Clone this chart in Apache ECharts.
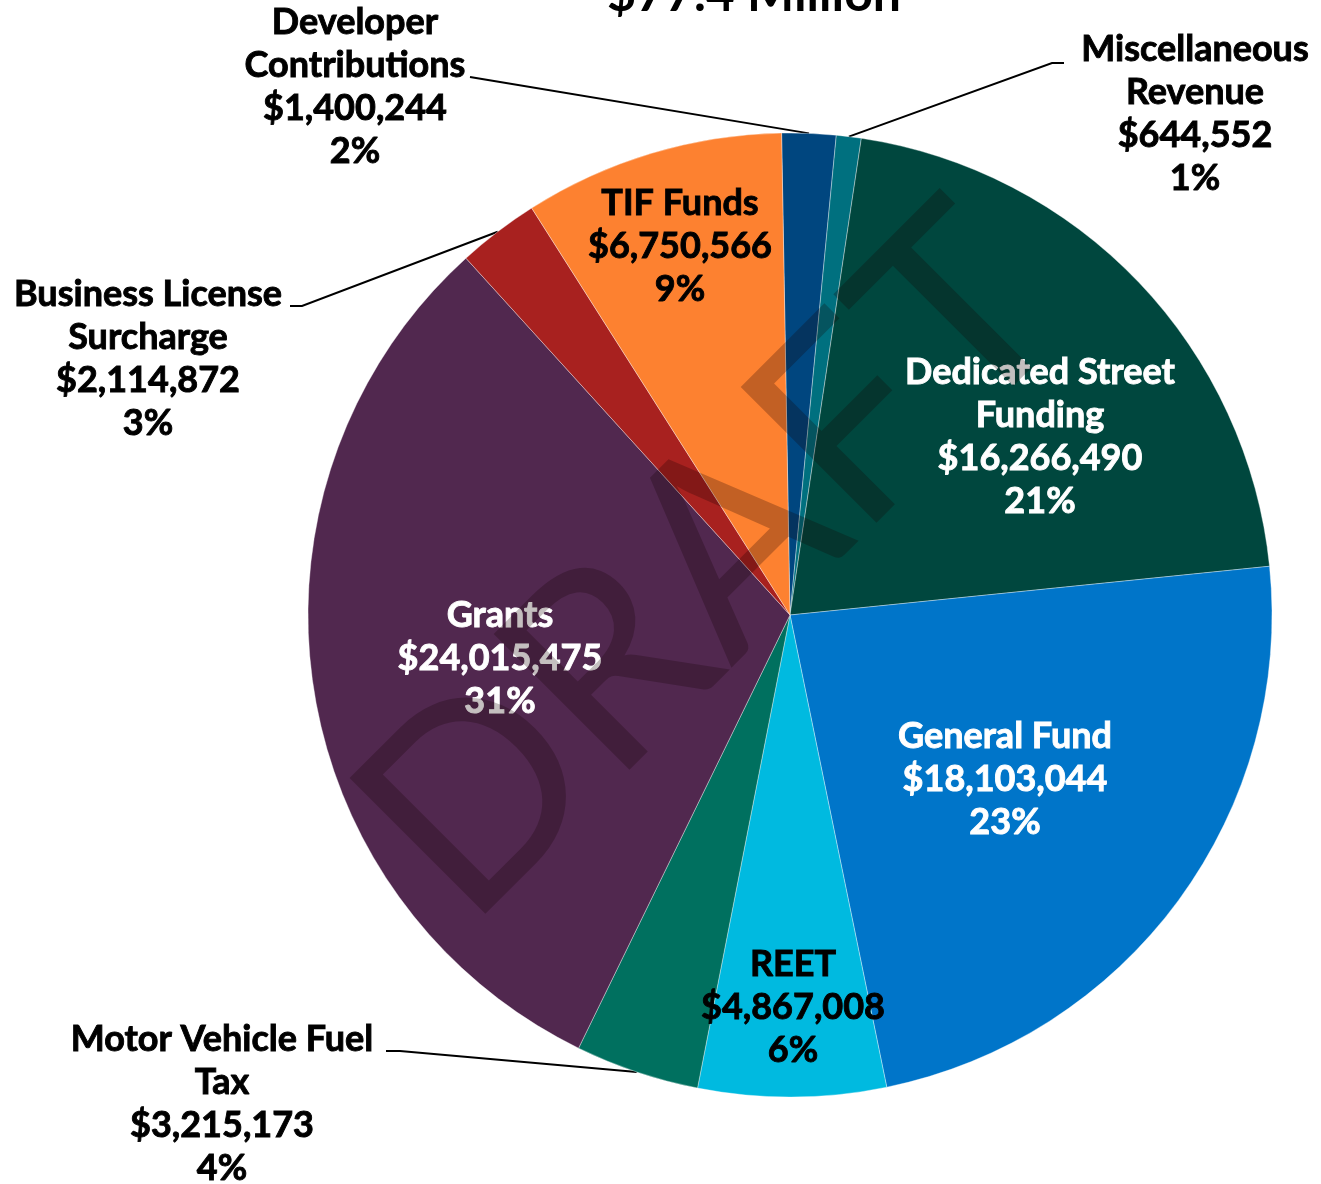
<!DOCTYPE html>
<html>
<head>
<meta charset="utf-8">
<title>Revenue sources</title>
<script src="https://cdn.jsdelivr.net/npm/echarts@6/dist/echarts.min.js"></script>
<style>
  html, body { margin: 0; padding: 0; background: #fff; }
  #chart { width: 1321px; height: 1184px; }
</style>
</head>
<body>
<div id="chart"></div>
<script>
// revenue sources, clockwise from 12 o'clock
var names = ['Developer\nContributions', 'Miscellaneous\nRevenue', 'Dedicated Street\nFunding', 'General Fund', 'REET',
             'Motor Vehicle Fuel\nTax', 'Grants', 'Business License\nSurcharge', 'TIF Funds'];
var amounts = [1400244, 644552, 16266490, 18103044, 4867008, 3215173, 24015475, 2114872, 6750566];
var title = '$77.4 Million';

var sliceColors = ['#00467f', '#00707f', '#00473e', '#0075c9', '#00bae0', '#00705f', '#51284f', '#a8211f', '#fd8130'];
var textColors = ['#000', '#000', '#fff', '#fff', '#000', '#000', '#fff', '#000', '#000'];
var outside = [true, true, false, false, false, true, false, true, false];

// where Excel put each label (centre of the text block)
var labelPos = [[355, 87], [1195, 114], [1040, 437], [1005, 779], [793, 1007], [222, 1104], [500, 658], [148, 359], [680, 246]];
// leader line: bend point, then end at the label
var leader = {
    0: [[482, 79], [470, 77]],
    1: [[1052, 63], [1064, 63]],
    5: [[400, 1051], [386, 1051]],
    7: [[302, 306], [290, 306]]
};

var data = names.map(function (n, i) {
    return {
        name: n,
        value: amounts[i],
        itemStyle: { color: sliceColors[i] },
        label: {
            color: textColors[i],
            textBorderColor: textColors[i],
            position: outside[i] ? 'outside' : 'inside'
        },
        labelLine: { show: outside[i] }
    };
});

var chart = echarts.init(document.getElementById('chart'));
chart.setOption({
    backgroundColor: '#fff',
    animation: false,
    graphic: [
        {
            type: 'text', x: 754, y: 20, z: 50,
            style: {
                text: title, fontSize: 50, fontWeight: 'bold', fontFamily: 'Lato', fill: '#000',
                align: 'center', verticalAlign: 'bottom', textAlign: 'center', textVerticalAlign: 'bottom'
            }
        },
        {
            // watermark sits on top of everything
            type: 'text', x: 712, y: 565, rotation: Math.PI / 4, z: 100,
            style: {
                text: 'DRAFT', fontSize: 268, fontFamily: 'Lato', fill: 'rgba(20,0,0,0.25)',
                align: 'center', verticalAlign: 'middle', textAlign: 'center', textVerticalAlign: 'middle'
            }
        }
    ],
    series: [{
        type: 'pie',
        center: [790, 615],
        radius: 482,
        startAngle: 91,
        clockwise: true,
        percentPrecision: 0,
        itemStyle: { borderColor: 'rgba(255,255,255,0.45)', borderWidth: 0.8 },
        label: {
            fontFamily: 'Lato',
            fontWeight: 'bold',
            fontSize: 36,
            lineHeight: 43,
            textBorderWidth: 0.9,
            align: 'center',
            overflow: 'none',
            formatter: function (p) {
                return p.name + '\n$' + p.value.toLocaleString('en-US') + '\n' + p.percent + '%';
            }
        },
        labelLine: { lineStyle: { color: '#000', width: 2 }, smooth: false },
        labelLayout: function (p) {
            var i = p.dataIndex;
            var out = { x: labelPos[i][0], y: labelPos[i][1], align: 'center', verticalAlign: 'middle' };
            if (leader[i] && p.labelLinePoints) {
                out.labelLinePoints = [p.labelLinePoints[0], leader[i][0], leader[i][1]];
            }
            return out;
        },
        data: data
    }]
});
</script>
</body>
</html>
